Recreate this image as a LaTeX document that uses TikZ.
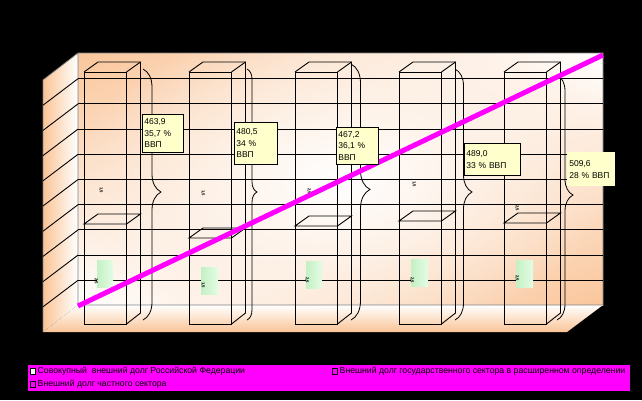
\documentclass[tikz,border=0pt]{standalone}
\usepackage{fontspec}
\setmainfont{Liberation Sans}
\usetikzlibrary{decorations.pathreplacing,shadings,fadings}
\definecolor{peach}{RGB}{250,196,150}
\definecolor{wallpeach}{RGB}{250,198,155}
\definecolor{lblfill}{RGB}{255,255,204}
\definecolor{greenA}{RGB}{196,240,196}
\definecolor{greenB}{RGB}{228,252,228}
\definecolor{wallgray}{RGB}{128,128,128}
\definecolor{legmag}{RGB}{255,0,255}
\tikzfading[name=glow, inner color=transparent!0, outer color=transparent!100]
\tikzset{
  colline/.style={black, line width=0.9pt},
  gridline/.style={black, line width=0.9pt},
  bracestyle/.style={black, line width=0.8pt, decorate, decoration={brace, aspect=0.49, amplitude=#1}},
  lbl/.style={fill=lblfill, draw=black, line width=0.7pt, anchor=north west, inner sep=1.5pt,
    align=left, font=\fontsize{8.5}{11.5}\selectfont},
  lblnb/.style={lbl, draw=none},
  tiny/.style={font=\fontsize{4.2}{4.5}\selectfont\bfseries, rotate=-90, inner sep=0pt},
  greenrect/.style={left color=greenA, right color=greenB},
  legtext/.style={anchor=west, inner sep=0pt, font=\fontsize{8.7}{10}\selectfont},
  legsq/.style={draw=black, line width=0.6pt}
}
\newcommand\mycol[2]{%
  \draw[colline] (#1,72) rectangle (#1+42.5,324);
  \draw[colline] (#1,72) -- (#1+14,62) -- (#1+56.5,62) -- (#1+56.5,313) -- (#1+42.5,324);
  \draw[colline] (#1+42.5,72) -- (#1+56.5,62);
  \draw[colline] (#1,#2) -- (#1+42.5,#2) -- (#1+56.5,#2-10) -- (#1+14,#2-10) -- cycle;
}
\begin{document}
\begin{tikzpicture}[x=1pt,y=-1pt]
\useasboundingbox (0,0) rectangle (642,400);
\fill[black] (0,0) rectangle (642,400);
% walls
\shade[left color=peach, right color=white] (43,80) -- (78,53) -- (78,305) -- (43,332) -- cycle;
\begin{scope}
\clip (78,53) rectangle (603,305);
\shade[upper left=wallpeach, upper right=white, lower left=white, lower right=wallpeach] (78,53) rectangle (603,305);
\fill[white, path fading=glow] (70,20) rectangle (610,340);
\end{scope}
\shade[top color=white, bottom color=peach] (43,332) -- (78,305) -- (603,305) -- (567,332) -- cycle;
\draw[wallgray, line width=0.8pt] (43,332) -- (43,80) -- (78,53) -- (603,53) -- (603,305) -- (78,305) -- (78,53);
% grid
\foreach \k in {1,...,9} {
  \pgfmathsetmacro\yy{53.5+25.2*\k}
  \draw[gridline] (78,\yy) -- (603,\yy);
  \draw[gridline] (43,\yy+26.5) -- (78,\yy);
}
% green rectangles
\shade[greenrect] (97,260) rectangle (113,287);
\shade[greenrect] (201,267) rectangle (218,294);
\shade[greenrect] (306,261) rectangle (322,288);
\shade[greenrect] (411,259) rectangle (428,286);
\shade[greenrect] (516,260) rectangle (533,287);
% columns
\mycol{84}{224}
\mycol{189}{238}
\mycol{295}{226}
\mycol{399}{221}
\mycol{504}{223}
% tiny labels
\node[tiny] (t1a) at (101,190) {1,5};
\node[tiny] (t2a) at (203,193) {1,5};
\node[tiny] (t3a) at (309,191) {2,5};
\node[tiny] (t4a) at (414,184) {1,5};
\node[tiny] (t5a) at (517,208) {2,5};
\node[tiny] (t1b) at (96,281) {2,5};
\node[tiny] (t2b) at (203,285) {1,5};
\node[tiny] (t3b) at (307,280) {2,5};
\node[tiny] (t4b) at (412,280) {2,5};
\node[tiny] (t5b) at (517,278) {2,5};
% braces
\coordinate (b1t) at (143,69);  \coordinate (b1b) at (143,320);
\coordinate (b2t) at (247,69);  \coordinate (b2b) at (247,320);
\coordinate (b3t) at (351,64);  \coordinate (b3b) at (351,320);
\coordinate (b4t) at (455,69);  \coordinate (b4b) at (455,320);
\coordinate (b5t) at (557,75);  \coordinate (b5b) at (557,320);
\draw[bracestyle=18pt] (b1t) -- (b1b);
\draw[bracestyle=10pt] (b2t) -- (b2b);
\draw[bracestyle=19pt] (b3t) -- (b3b);
\draw[bracestyle=17pt] (b4t) -- (b4b);
\draw[bracestyle=16pt] (b5t) -- (b5b);
% magenta line
\coordinate (m1) at (78,306);
\coordinate (m2) at (603,55);
\draw[legmag, line width=5pt] (m1) -- (m2);
% value labels
\node[lbl, minimum width=41pt, minimum height=38pt, text width=37pt] (l1) at (142,114) {463,9\\35,7 \%\\ВВП};
\node[lbl, minimum width=43pt, minimum height=42pt, text width=39pt] (l2) at (234,122) {480,5\\34 \%\\ВВП};
\node[lbl, minimum width=42pt, minimum height=37pt, text width=38pt] (l3) at (336,127) {467,2\\36,1 \%\\ВВП};
\node[lbl, minimum width=56pt, minimum height=32pt, text width=52pt] (l4) at (464,143) {489,0\\33 \% ВВП};
\node[lblnb, minimum width=48pt, minimum height=34pt, text width=44pt] (l5) at (567,152) {509,6\\28 \% ВВП};
% legend
\fill[legmag] (28,365) rectangle (630,391);
\draw[legsq, fill=white] (30,368) rectangle (35,374);
\node[legtext] (g1) at (37.5,371) {Совокупный\ \ внешний долг Российской Федерации};
\draw[legsq] (30,381.5) rectangle (35,387.5);
\node[legtext] (g2) at (37.5,384.5) {Внешний долг частного сектора};
\draw[legsq] (332,368) rectangle (337,374);
\node[legtext] (g3) at (339.5,371) {Внешний долг государственного сектора в расширенном определении};
\end{tikzpicture}
\end{document}
